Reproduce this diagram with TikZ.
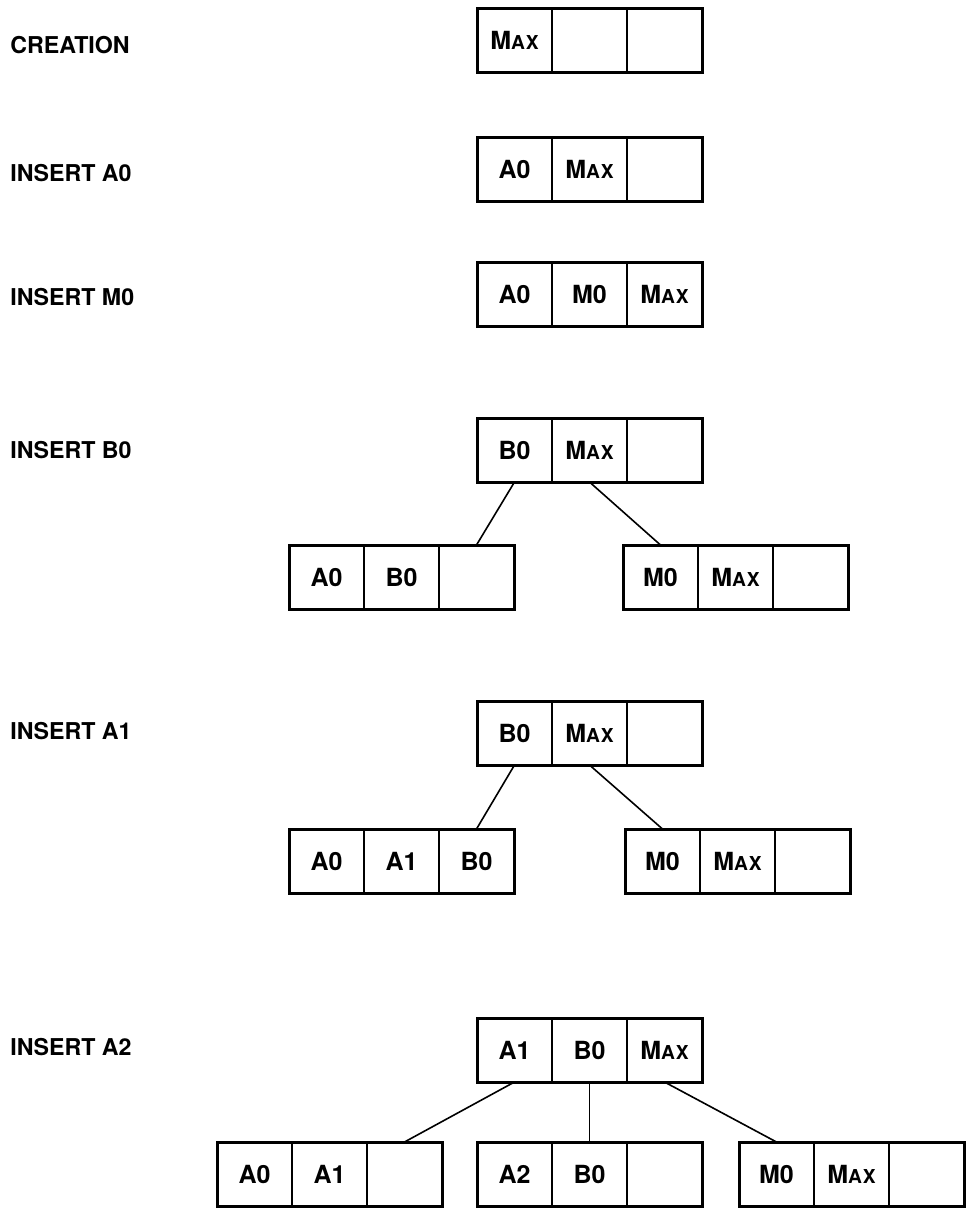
\documentclass[tikz,border=0pt]{standalone}
\usepackage{fontspec}
\setmainfont{TeX Gyre Heros}
\usetikzlibrary{positioning}

\newcommand{\maxkey}{M{\fontsize{9.6}{10}\selectfont A\kern0.4pt X}}

\tikzset{
  cell/.style = {draw, line width=0.7pt, minimum width=37.5pt,
                 minimum height=32pt, inner sep=0pt, outer sep=0pt,
                 font=\bfseries\fontsize{12.5}{14}\selectfont},
  frame/.style = {draw, line width=1.5pt},
  oplabel/.style = {anchor=west, inner sep=0pt,
                    font=\bfseries\fontsize{11.6}{13}\selectfont},
  link/.style = {line width=0.8pt}
}

% one node of the tree: three key cells and a heavy frame
\newcommand{\keybox}[5]{%
  \node[cell, anchor=north west] (#1a) at (#2) {#3};
  \node[cell, right=0pt of #1a] (#1b) {#4};
  \node[cell, right=0pt of #1b] (#1c) {#5};
  \draw[frame] (#1a.north west) rectangle (#1c.south east);
}

\begin{document}
\begin{tikzpicture}[x=0.5pt, y=-0.5pt]
  \useasboundingbox (0,0) rectangle (966,1212);

  \node[oplabel] (l1) at (10,45) {CREATION};
  \node[oplabel] (l2) at (10,173) {INSERT A0};
  \node[oplabel] (l3) at (10,297) {INSERT M0};
  \node[oplabel] (l4) at (10,450) {INSERT B0};
  \node[oplabel] (l5) at (10,731) {INSERT A1};
  \node[oplabel] (l6) at (10,1047) {INSERT A2};

  \keybox{r1}{477,8}{\maxkey}{}{}
  \keybox{r2}{477,137}{A0}{\maxkey}{}
  \keybox{r3}{477,262}{A0}{M0}{\maxkey}

  \keybox{r4}{477,418}{B0}{\maxkey}{}
  \keybox{r4l}{289,545}{A0}{B0}{}
  \keybox{r4r}{623,545}{M0}{\maxkey}{}
  \draw[link] (r4a.south) -- (r4lc.north);
  \draw[link] (r4b.south) -- (r4ra.north);

  \keybox{r5}{477,701}{B0}{\maxkey}{}
  \keybox{r5l}{289,829}{A0}{A1}{B0}
  \keybox{r5r}{625,829}{M0}{\maxkey}{}
  \draw[link] (r5a.south) -- (r5lc.north);
  \draw[link] (r5b.south) -- (r5ra.north);

  \keybox{r6}{477,1018}{A1}{B0}{\maxkey}
  \keybox{r6l}{217,1142}{A0}{A1}{}
  \keybox{r6m}{477,1142}{A2}{B0}{}
  \keybox{r6r}{739,1142}{M0}{\maxkey}{}
  \draw[link] (r6a.south) -- (r6lc.north);
  \draw[link] (r6b.south) -- (r6mb.north);
  \draw[link] (r6c.south) -- (r6ra.north);
\end{tikzpicture}
\end{document}
